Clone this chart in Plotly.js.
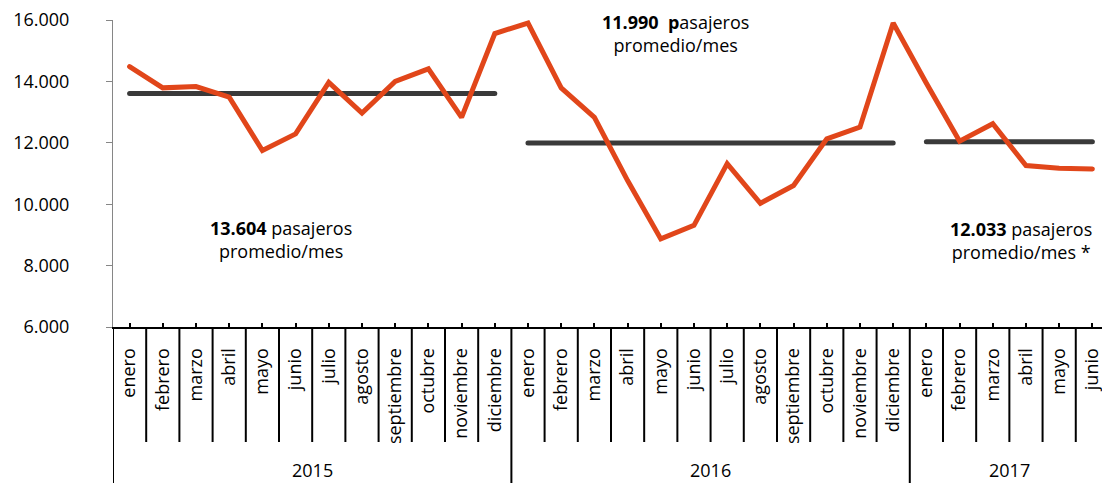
<!DOCTYPE html>
<html>
<head>
<meta charset="utf-8">
<script src="https://cdn.plot.ly/plotly-3.0.1.min.js"></script>
<style>
html, body { margin: 0; padding: 0; background: #fff; }
#chart { width: 1102px; height: 483px; }
.scatterlayer path.js-line { stroke-linecap: round; }
</style>
</head>
<body>
<div id="chart"></div>
<script>
// ---- data ----
const years = ["2015", "2016", "2017"];
const months = ["enero", "febrero", "marzo", "abril", "mayo", "junio", "julio",
                "agosto", "septiembre", "octubre", "noviembre", "diciembre"];
const pasajeros2015 = [14480, 13790, 13830, 13490, 11750, 12290, 13970, 12970, 14000, 14410, 12830, 15560];
const pasajeros2016 = [15900, 13790, 12830, 10770, 8870, 9310, 11320, 10030, 10610, 12130, 12510, 15900];
const pasajeros2017 = [13940, 12050, 12620, 11260, 11170, 11150];
const promedios = [13604, 11990, 12033];
const notas = [
  "<b>13.604</b> pasajeros<br>promedio/mes",
  "<b>11.990\u00a0 p</b>asajeros<br>promedio/mes",
  "<b>12.033</b> pasajeros<br>promedio/mes *"
];

// ---- build ----
const series = [pasajeros2015, pasajeros2016, pasajeros2017];
let allY = [], tickText = [], groupStart = [], groupLen = [];
series.forEach(s => {
  groupStart.push(allY.length);
  groupLen.push(s.length);
  s.forEach((v, i) => { allY.push(v); tickText.push(months[i]); });
});
const allX = allY.map((_, i) => i);
const N = allX.length;

const FONT = "Open Sans, sans-serif";
const ORANGE = "#E1461A";
const DARK = "#3A3A3A";

const traces = [];
// average lines
series.forEach((s, g) => {
  const xs = [], ys = [];
  for (let i = 0; i < groupLen[g]; i++) { xs.push(groupStart[g] + i); ys.push(promedios[g]); }
  traces.push({ x: xs, y: ys, type: "scatter", mode: "lines",
    line: { color: DARK, width: 5 }, hoverinfo: "skip", showlegend: false });
});
// passengers line
traces.push({ x: allX, y: allY, type: "scatter", mode: "lines",
  line: { color: ORANGE, width: 5 }, showlegend: false });

// divider shapes & year labels
const plotTop = 20, plotBottom = 327, paperH = 483;
const plotH = plotBottom - plotTop;
const yMonthDiv = (plotBottom - 442) / plotH;
const yYearDiv = (plotBottom - paperH) / plotH;
const yYearLbl = (plotBottom - 470) / plotH;

const shapes = [];
for (let i = 0; i < N; i++) {
  const isGroup = groupStart.includes(i);
  shapes.push({ type: "line", xref: "x", yref: "paper",
    x0: i - 0.5, x1: i - 0.5, y0: 0, y1: isGroup ? yYearDiv : yMonthDiv,
    line: { color: "#000", width: 2 } });
}

const annotations = [];
years.forEach((yr, g) => {
  annotations.push({ xref: "x", yref: "paper",
    x: groupStart[g] + (groupLen[g] - 1) / 2, y: yYearLbl,
    text: yr, showarrow: false, font: { family: FONT, size: 18, color: "#000" },
    xanchor: "center", yanchor: "middle" });
});
// 2017 label centred on the full visible year slot
annotations[2].x = groupStart[2] + 2.5;

const notePos = [[4.56, 8850], [16.43, 15560], [26.85, 8820]];
notas.forEach((t, k) => {
  annotations.push({ xref: "x", yref: "y", x: notePos[k][0], y: notePos[k][1],
    text: t, showarrow: false, align: "center",
    font: { family: FONT, size: 18, color: "#000" },
    xanchor: "center", yanchor: "middle" });
});

const layout = {
  width: 1102, height: 483,
  margin: { l: 113, r: 0, t: plotTop, b: paperH - plotBottom, pad: 0 },
  paper_bgcolor: "#fff", plot_bgcolor: "#fff",
  separators: ",.",
  font: { family: FONT, size: 18, color: "#000" },
  xaxis: {
    range: [-0.5, 29.29],
    tickvals: allX, ticktext: tickText,
    tickangle: -90,
    ticks: "inside", ticklen: 4, tickwidth: 2, tickcolor: "#000",
    showline: true, linecolor: "#000", linewidth: 2,
    showgrid: false, zeroline: false,
    ticklabelstandoff: 12,
    ticklabeloverflow: "allow",
    tickfont: { family: FONT, size: 18, color: "#000" }
  },
  yaxis: {
    range: [6000, 16000],
    dtick: 2000, tickformat: ",d",
    ticks: "outside", ticklen: 6, tickwidth: 1, tickcolor: "#868686",
    showline: true, linecolor: "#868686", linewidth: 1,
    showgrid: false, zeroline: false,
    ticklabelstandoff: 33,
    tickfont: { family: FONT, size: 18, color: "#000" }
  },
  shapes: shapes,
  annotations: annotations
};

Plotly.newPlot("chart", traces, layout, { displayModeBar: false, staticPlot: true });
</script>
</body>
</html>
